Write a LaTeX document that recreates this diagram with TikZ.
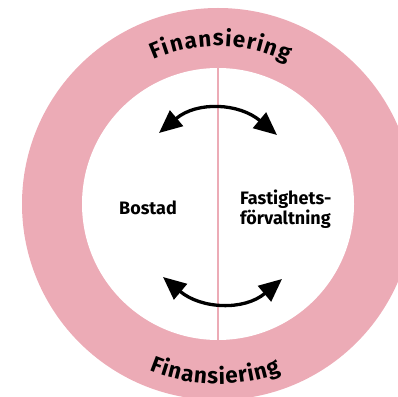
\documentclass[tikz,border=0pt]{standalone}
\usepackage{fontspec}
\setmainfont{Fira Sans}
\usetikzlibrary{arrows.meta,decorations.text,calc}
\definecolor{ringpink}{RGB}{236,171,182}
\begin{document}
\begin{tikzpicture}[x=1pt,y=1pt,
  ring/.style={circle, fill=ringpink, inner sep=0pt, minimum size=392pt},
  hole/.style={circle, fill=white, inner sep=0pt, minimum size=272pt},
  divider/.style={draw=ringpink, line width=1.3pt},
  lbl/.style={font=\fontsize{18}{20}\selectfont\bfseries, inner sep=0pt},
  swap/.style={line width=3.3pt, {Triangle[length=23pt,width=20pt]}-{Triangle[length=23pt,width=20pt]}},
  ringtext/.style={decorate, decoration={text along path, text align=fit to path,
      text={|\fontsize{22.5}{22.5}\selectfont\bfseries|#1}}}
]
\useasboundingbox (0,0) rectangle (398,396);
\clip (0,0) rectangle (398,396);
\coordinate (O) at (218,192);

% pink ring with white centre and divider
\node[ring] (outer) at (O) {};
\node[hole] (inner) at (O) {};
\draw[divider] (inner.north) -- (inner.south);

% curved ring labels, spread over a fixed stretch of arc
\path[ringtext=Finansiering] ($(O)+(114:158pt)$) arc[start angle=114, end angle=64, radius=158pt];
\path[ringtext=Finansiering] ($(O)+(247.5:180pt)$) arc[start angle=247.5, end angle=290.5, radius=180pt];

% the two halves
\node[lbl] (bostad) at (148,188) {Bostad};
\node[lbl, align=left, anchor=west] (fast) at (240,186.5) {Fastighets-\\förvaltning};

% exchange arrows
\coordinate (a1) at (159,263);
\coordinate (a2) at (277,261);
\coordinate (b1) at (163,119);
\coordinate (b2) at (282,117);
\draw[swap] (a1) .. controls +(38,32) and +(-38,32) .. (a2);
\draw[swap] (b1) .. controls +(38,-32) and +(-38,-32) .. (b2);
\end{tikzpicture}
\end{document}
